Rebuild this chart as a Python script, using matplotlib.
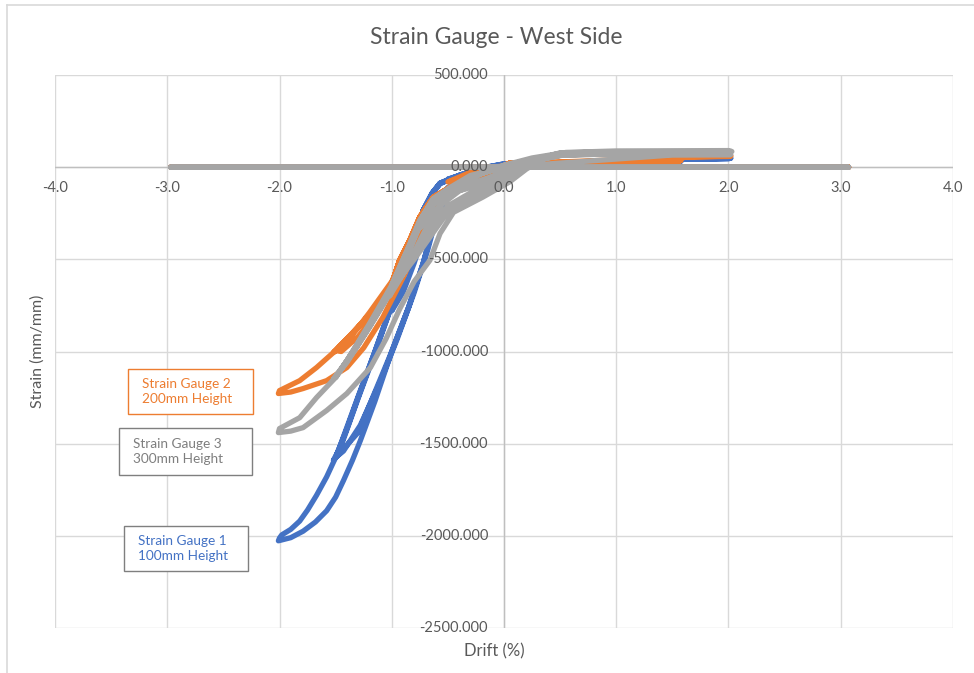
import matplotlib
matplotlib.use("Agg")
import matplotlib.pyplot as plt
from matplotlib.lines import Line2D

plt.rcParams['font.family'] = ['Lato', 'DejaVu Sans']

# ---- data: drift (%) vs strain readings, in recorded order ----
# Strain Gauge 1 (100 mm height)
g1_drift = [0, 0.25, 0.5, 0, -0.25, -0.5, -0.3, 0,
            0.5, 1.0, 0.5, 0.2, 0, -0.2, -0.4, -0.57, -0.64, -0.72, -0.8, -0.9, -1.0,
            -0.9, -0.8, -0.7, -0.6, -0.5, -0.3, 0,
            0.5, 1.05, 1.57, 1.05, 0.5, 0.2, 0, -0.2, -0.4, -0.57, -0.64, -0.72, -0.8, -0.9, -1.0, -1.15, -1.3, -1.45, -1.5,
            -1.43, -1.28, -1.1, -0.95, -0.8, -0.68, -0.6, -0.5, -0.3, 0,
            0.5, 1.05, 1.57, 1.05, 0.5, 0, -0.2, -0.4, -0.57, -0.64, -0.72, -0.8, -0.9, -1.0, -1.15, -1.3, -1.45, -1.52,
            -1.3, -1.15, -1.0, -0.85, -0.72, -0.62, -0.5, -0.3, 0,
            0.5, 1.05, 1.57, 1.6, 2.0, 2.02, 1.6, 1.0, 0.5, 0, -0.2, -0.4, -0.57, -0.64, -0.72, -0.8, -0.9, -1.0, -1.15,
            -1.3, -1.4, -1.5, -1.58, -1.67, -1.75, -1.82, -1.9, -1.98, -2.0,
            -2.01, -1.9, -1.79, -1.68, -1.58, -1.5, -1.43, -1.35, -1.28, -1.15, -1.0, -0.85, -0.72, -0.62, -0.5, -0.3, 0,
            0.5, 1.0, 2.02, 1.6, 0, 3.07, -2.97, 3.07, 0]
g1_strain = [0, 8, 12, 5, -15, -65, -35, 5,
             15, 22, 16, 15, 12, -5, -45, -87, -141, -234, -400, -600, -780,
             -680, -520, -330, -180, -110, -50, 10,
             18, 27, 30, 26, 20, 22, 18, -5, -45, -87, -141, -234, -390, -560, -740, -1000, -1245, -1495, -1575,
             -1540, -1400, -1160, -930, -680, -450, -270, -140, -55, 10,
             18, 27, 30, 27, 20, 15, -5, -45, -90, -145, -240, -400, -575, -750, -1010, -1255, -1510, -1590,
             -1440, -1220, -1000, -760, -520, -300, -150, -60, 10,
             20, 28, 32, 43, 45, 50, 47, 35, 25, 18, -5, -45, -87, -141, -234, -400, -575, -750, -1000,
             -1250, -1420, -1575, -1680, -1780, -1860, -1920, -1965, -1995, -2012,
             -2027, -2010, -1975, -1925, -1864, -1790, -1700, -1590, -1484, -1270, -1000, -760, -520, -300, -150, -60, 10,
             25, 35, 48, 45, 0, 0, 0, 0, 0]

# Strain Gauge 2 (200 mm height)
g2_drift = [0, 0.25, 0.5, 0, -0.25, -0.5, -0.3, 0,
            0.5, 1.0, 0.41, 0.05, -0.19, -0.48, -0.63, -0.75, -0.84, -0.93, -1.02,
            -0.9, -0.75, -0.6, -0.4, -0.2, 0.05,
            0.41, 0.77, 1.05, 1.57, 1.05, 0.41, 0.05, -0.19, -0.48, -0.63, -0.75, -0.84, -0.93, -1.02, -1.19, -1.35, -1.5,
            -1.45, -1.3, -1.1, -0.95, -0.8, -0.65, -0.45, -0.2, 0.05,
            0.41, 1.05, 1.57, 1.05, 0.41, 0.05, -0.19, -0.48, -0.63, -0.75, -0.84, -0.93, -1.02, -1.19, -1.35, -1.52,
            -1.4, -1.2, -1.0, -0.85, -0.7, -0.55, -0.35, -0.15, 0.05,
            0.41, 1.05, 1.57, 1.6, 2.0, 2.02, 1.6, 1.0, 0.41, 0.05, -0.19, -0.48, -0.63, -0.75, -0.84, -0.93, -1.02,
            -1.19, -1.35, -1.5, -1.67, -1.82, -2.0,
            -2.01, -1.9, -1.79, -1.58, -1.4, -1.25, -1.08, -0.9, -0.75, -0.6, -0.45, -0.2, 0.05,
            0.5, 1.6, 2.02, 1.6, 0, 3.07, -2.97, 3.07, 0]
g2_strain = [0, 10, 15, 8, -15, -80, -45, 5,
             22, 28, 22, 22, -43, -109, -163, -270, -397, -505, -668,
             -560, -360, -200, -100, -50, 22,
             22, 27, 33, 35, 33, 22, 22, -43, -109, -163, -270, -397, -505, -668, -794, -900, -995,
             -1000, -920, -760, -580, -380, -210, -110, -45, 22,
             22, 33, 35, 33, 22, 22, -43, -109, -163, -270, -397, -505, -668, -794, -900, -1005,
             -950, -790, -620, -430, -260, -150, -80, -35, 22,
             22, 33, 35, 55, 58, 62, 58, 35, 25, 22, -43, -109, -163, -270, -397, -505, -668,
             -794, -900, -995, -1087, -1158, -1212,
             -1228, -1220, -1201, -1158, -1087, -980, -815, -600, -400, -220, -120, -45, 22,
             28, 55, 60, 58, 0, 0, 0, 0, 0]

# Strain Gauge 3 (300 mm height)
g3_drift = [0, 0.25, 0.5, 0.25, 0, -0.25, -0.5, -0.35, -0.15, 0.05, 0.25,
            0.5, 0.75, 0.5, 0.2, 0, -0.25, -0.5, -0.63, -0.75,
            -0.65, -0.52, -0.35, -0.15, 0.05, 0.25,
            0.5, 1.0, 0.5, 0.2, 0, -0.2, -0.48, -0.63, -0.75, -0.84, -1.0,
            -0.85, -0.7, -0.55, -0.4, -0.25, -0.05, 0.15,
            0.5, 1.0, 0.5, 0.2, 0, -0.2, -0.48, -0.63, -0.75, -0.9, -1.02,
            -0.88, -0.72, -0.6, -0.42, -0.2, 0, 0.2, 0.35,
            0.55, 1.0, 1.57, 1.0, 0.5, 0.2, 0, -0.2, -0.48, -0.63, -0.75, -0.84, -1.0, -1.2, -1.4, -1.5,
            -1.3, -1.1, -0.9, -0.75, -0.62, -0.5, -0.3, -0.1, 0.1, 0.3,
            0.5, 1.0, 1.57, 1.0, 0.5, 0.2, 0, -0.2, -0.48, -0.63, -0.75, -0.84, -1.0, -1.2, -1.4, -1.52,
            -1.35, -1.15, -0.95, -0.8, -0.66, -0.52, -0.35, -0.15, 0.05, 0.2, 0.35,
            0.55, 1.0, 2.0, 2.03, 1.5, 1.0, 0.5, 0.3, 0.1, -0.1, -0.3, -0.48, -0.63, -0.75, -0.84, -1.0, -1.2, -1.4,
            -1.5, -1.67, -1.82, -2.0,
            -2.01, -1.9, -1.79, -1.58, -1.4, -1.19, -1.05, -0.93, -0.8, -0.66, -0.57, -0.45, -0.19, 0.05, 0.2,
            0.35, 0.55, 1.0, 2.02, 1.5, 0, 3.07, -2.97, 3.07, 0]
g3_strain = [0, 40, 75, 50, 10, -45, -140, -120, -80, -30, 30,
             75, 80, 72, 32, 5, -45, -130, -200, -330,
             -260, -170, -100, -60, -10, 35,
             78, 82, 72, 35, 10, -30, -115, -175, -290, -420, -640,
             -520, -340, -200, -130, -85, -45, 10,
             75, 80, 70, 30, 5, -35, -125, -200, -320, -530, -700,
             -560, -400, -270, -190, -130, -60, 10, 45,
             70, 78, 82, 75, 68, 30, 8, -30, -115, -180, -300, -430, -650, -860, -1050, -1141,
             -960, -760, -560, -420, -300, -210, -140, -80, -20, 40,
             65, 75, 80, 72, 65, 28, 5, -30, -118, -185, -310, -440, -660, -870, -1060, -1150,
             -1010, -820, -620, -500, -380, -260, -190, -130, -55, 0, 45,
             80, 88, 90, 85, 80, 75, 68, 45, 10, -15, -45, -110, -170, -290, -420, -640, -850, -1050,
             -1141, -1250, -1359, -1418,
             -1440, -1432, -1413, -1320, -1228, -1087, -930, -770, -620, -505, -360, -245, -163, -80, -10,
             45, 68, 70, 68, 66, 0, 0, 0, 0, 0]

x_ticks = [-4.0, -3.0, -2.0, -1.0, 0.0, 1.0, 2.0, 3.0, 4.0]
y_ticks = [-2500, -2000, -1500, -1000, -500, 0, 500]

BLUE = '#4472C4'
ORANGE = '#ED7D31'
GRAY = '#A5A5A5'
TEXT = '#595959'
GRID = '#D9D9D9'

fig = plt.figure(figsize=(9.74, 6.73), dpi=100)
ax = fig.add_axes([55 / 974, 1 - 628 / 673, (953 - 55) / 974, (628 - 75) / 673])

# chart frame (left and top edges)
fig.add_artist(Line2D([7 / 974, 7 / 974], [0, 1 - 5 / 673], color=GRID, lw=1.2))
fig.add_artist(Line2D([7 / 974, 1], [1 - 5 / 673, 1 - 5 / 673], color=GRID, lw=1.2))

ax.set_xlim(-4, 4)
ax.set_ylim(-2500, 500)
ax.set_xticks(x_ticks)
ax.set_yticks(y_ticks)
ax.grid(True, color=GRID, lw=1.0)
ax.set_axisbelow(True)
ax.tick_params(length=0, labelbottom=False, labelleft=False)
for s in ax.spines.values():
    s.set_visible(False)
ax.axvline(0, color='#BFBFBF', lw=1.0, zorder=1)
ax.axhline(0, color='#BFBFBF', lw=1.0, zorder=1)

lw = 3.8
for d, s, c in [(g1_drift, g1_strain, BLUE), (g2_drift, g2_strain, ORANGE), (g3_drift, g3_strain, GRAY)]:
    ax.plot(d, s, color=c, lw=lw, solid_joinstyle='round', solid_capstyle='round', zorder=3)

# tick labels placed along the axes that cross at the origin
for xv in x_ticks:
    ax.annotate(f"{xv:.1f}", (xv, 0), xytext=(0, -15), textcoords='offset points',
                ha='center', va='center', fontsize=10.5, color=TEXT, zorder=5)
for yv in y_ticks:
    ax.annotate(f"{yv:.3f}", (0, yv), xytext=(-11.5, 0), textcoords='offset points',
                ha='right', va='center', fontsize=10.5, color=TEXT, zorder=5)

fig.text(496 / 974, 1 - 38 / 673, "Strain Gauge - West Side", ha='center', va='center',
         fontsize=16.5, color=TEXT)
fig.text(494 / 974, 1 - 651 / 673, "Drift (%)", ha='center', va='center', fontsize=12, color=TEXT)
fig.text(38 / 974, 1 - 351 / 673, "Strain (mm/mm)", ha='center', va='center', rotation=90,
         fontsize=11.5, color=TEXT)

# series call-out boxes
boxes = [("Strain Gauge 2\n200mm Height", 128, 369, 253, 414, ORANGE, ORANGE),
         ("Strain Gauge 3\n300mm Height", 119, 428, 252, 475, '#7F7F7F', '#7F7F7F'),
         ("Strain Gauge 1\n100mm Height", 124, 526, 248, 571, BLUE, '#7F7F7F')]
for txt, x0, y0, x1, y1, tc, ec in boxes:
    rect = plt.Rectangle((x0 / 974, 1 - y1 / 673), (x1 - x0) / 974, (y1 - y0) / 673,
                         transform=fig.transFigure, facecolor='white', edgecolor=ec, lw=1.0, zorder=6)
    fig.add_artist(rect)
    fig.text((x0 + 14) / 974, 1 - ((y0 + y1) / 2) / 673, txt, ha='left', va='center',
             fontsize=9.8, color=tc, linespacing=1.25, zorder=7)

fig.savefig("out.png", dpi=100)
